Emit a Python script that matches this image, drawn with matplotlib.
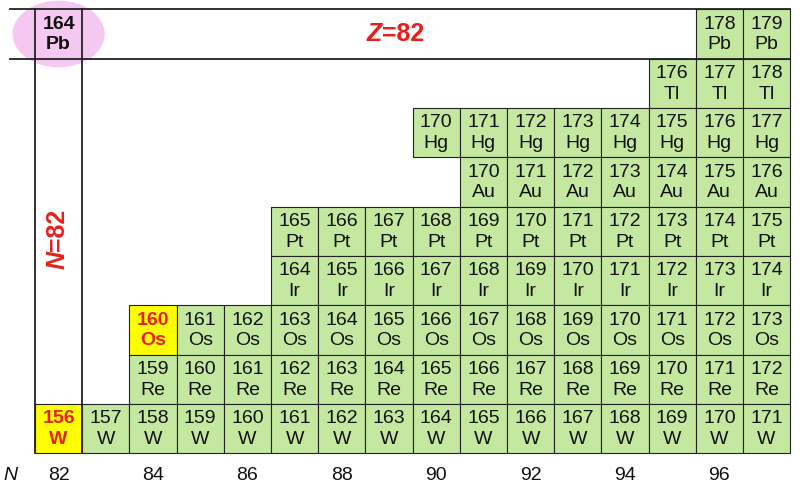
import matplotlib
matplotlib.use("Agg")
import matplotlib.pyplot as plt
from matplotlib.patches import Rectangle, Ellipse

plt.rcParams['font.family'] = ['Liberation Sans', 'DejaVu Sans']

# element rows: symbol, Z, first N, last N
rows = [
    ("Pb", 82, 96, 97),
    ("Tl", 81, 95, 97),
    ("Hg", 80, 90, 97),
    ("Au", 79, 91, 97),
    ("Pt", 78, 87, 97),
    ("Ir", 77, 87, 97),
    ("Os", 76, 84, 97),
    ("Re", 75, 84, 97),
    ("W", 74, 82, 97),
]
highlight = [("W", 74, 82), ("Os", 76, 84)]
magic_cell = ("Pb", 82, 82)
xticks = [82, 84, 86, 88, 90, 92, 94, 96]

green = "#c5e8a0"
yellow = "#ffff00"
red = "#e8201a"
FS = 14

fig = plt.figure(figsize=(8, 4.98), dpi=100)
ax = fig.add_axes([0, 0, 1, 1])
ax.set_xlim(80.758, 97.708)
ax.set_ylim(72.59, 82.69)
ax.axis('off')

def cell(sym, Z, N, fc, tc, bold):
    ax.add_patch(Rectangle((N - 0.5, Z - 0.5), 1, 1, facecolor=fc, edgecolor="#222222", lw=0.8, zorder=2))
    w = 'bold' if bold else 'normal'
    ax.text(N, Z + 0.2, str(Z + N), ha='center', va='center', fontsize=FS, color=tc, fontweight=w, zorder=3)
    ax.text(N, Z - 0.22, sym, ha='center', va='center', fontsize=FS, color=tc, fontweight=w, zorder=3)

hl = {(z, n) for _, z, n in highlight}
for sym, Z, n0, n1 in rows:
    for N in range(n0, n1 + 1):
        if (Z, N) in hl:
            cell(sym, Z, N, yellow, red, True)
        else:
            cell(sym, Z, N, green, "#111111", False)

# magic Pb cell with ellipse
sym, Z, N = magic_cell
ax.add_patch(Ellipse((N, Z), 1.95, 1.35, facecolor="#f5c8f2", edgecolor='none', zorder=1))
ax.text(N, Z + 0.2, str(Z + N), ha='center', va='center', fontsize=FS, fontweight='bold', color="#111111", zorder=3)
ax.text(N, Z - 0.22, sym, ha='center', va='center', fontsize=FS, fontweight='bold', color="#111111", zorder=3)

# magic lines
for y in (81.5, 82.5):
    ax.plot([80.97, 97.5], [y, y], color="#222222", lw=1.3, zorder=4)
for x in (81.5, 82.5):
    ax.plot([x, x], [73.5, 82.5], color="#222222", lw=1.3, zorder=4)

ax.text(88.85, 82, "Z", ha='right', va='center', fontsize=18, fontweight='bold', style='italic', color=red, zorder=5)
ax.text(88.85, 82, "=82", ha='left', va='center', fontsize=18, fontweight='bold', color=red, zorder=5)
ax.text(81.97, 77.6, "N", ha='center', va='top', fontsize=18, fontweight='bold', style='italic', color=red, rotation=90, zorder=5)
ax.text(81.97, 77.6, "=82", ha='center', va='bottom', fontsize=18, fontweight='bold', color=red, rotation=90, zorder=5)

for t in xticks:
    ax.text(t, 73.05, str(t), ha='center', va='center', fontsize=FS, color="#111111")
ax.text(80.97, 73.05, "N", ha='center', va='center', fontsize=FS, style='italic', color="#111111")

fig.savefig("out.png", dpi=100)
